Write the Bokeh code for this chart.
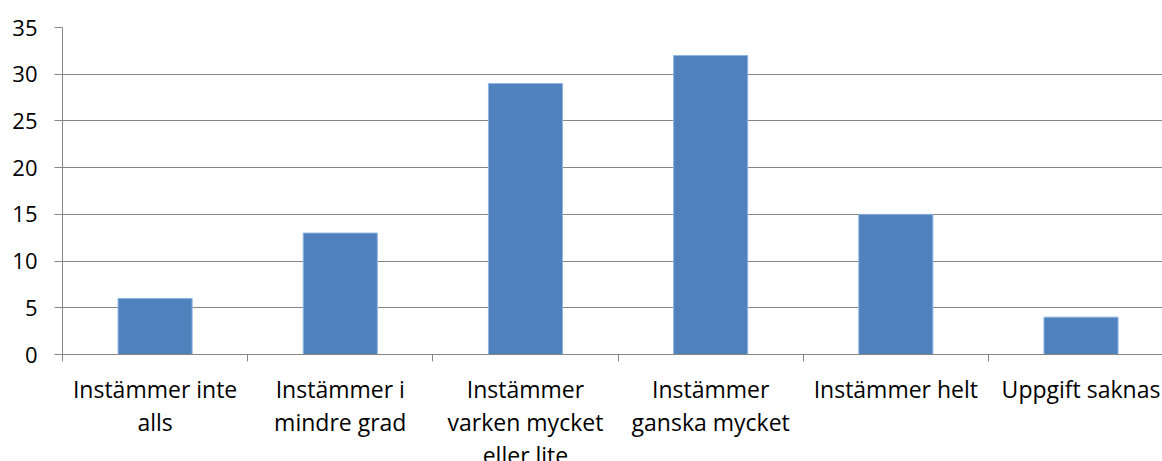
from bokeh.plotting import figure
from bokeh.models import Range1d, FixedTicker, ColumnDataSource
from bokeh.layouts import column
from bokeh.embed import file_html
from bokeh.resources import INLINE
from bokeh.core.properties import value

categories = ["Instämmer inte\nalls", "Instämmer i\nmindre grad", "Instämmer\nvarken mycket\neller lite",
              "Instämmer\nganska mycket", "Instämmer helt", "Uppgift saknas"]
values = [6, 13, 29, 32, 15, 4]
y_ticks = [0, 5, 10, 15, 20, 25, 30, 35]

FONT = "Open Sans"
GRAY = "#868686"

xs = [i + 0.5 for i in range(len(categories))]
src = ColumnDataSource(dict(x=xs, top=values, label=categories))

xr = Range1d(0, 5.94)
p = figure(width=1162, height=370, output_backend="svg", toolbar_location=None,
           x_range=xr, y_range=Range1d(0, 35),
           min_border_left=62, min_border_right=0, min_border_top=27, min_border_bottom=16)
p.outline_line_color = None

p.vbar(x="x", top="top", width=0.4, bottom=0, source=src,
       fill_color="#4F81BD", line_color="#8EB4E3", line_width=1)

# y axis
p.yaxis.ticker = FixedTicker(ticks=y_ticks, minor_ticks=[])
p.yaxis.axis_line_color = GRAY
p.yaxis.major_tick_line_color = GRAY
p.yaxis.major_tick_out = 8
p.yaxis.major_tick_in = 0
p.yaxis.minor_tick_line_color = None
p.yaxis.major_label_standoff = 17
p.yaxis.major_label_text_font = FONT
p.yaxis.major_label_text_font_size = "22px"
p.yaxis.major_label_text_color = "black"

p.ygrid.ticker = FixedTicker(ticks=y_ticks)
p.ygrid.grid_line_color = GRAY
p.ygrid.grid_line_width = 1
p.xgrid.grid_line_color = None

# x axis: tick marks at category boundaries, labels drawn below
bounds = list(range(len(categories) + 1))
p.xaxis.ticker = FixedTicker(ticks=bounds, minor_ticks=[])
p.xaxis.major_label_overrides = {b: "" for b in bounds}
p.xaxis.axis_line_color = GRAY
p.xaxis.major_tick_line_color = GRAY
p.xaxis.major_tick_out = 7
p.xaxis.major_tick_in = 0
p.xaxis.minor_tick_line_color = None
p.xaxis.major_label_text_font_size = "1px"
p.xaxis.major_label_standoff = 0

# category labels panel
q = figure(width=1162, height=91, output_backend="svg", toolbar_location=None,
           x_range=xr, y_range=Range1d(0, 91),
           min_border_left=62, min_border_right=0, min_border_top=0, min_border_bottom=0)
q.outline_line_color = None
q.axis.visible = False
q.grid.grid_line_color = None
lab_src = ColumnDataSource(dict(x=xs, y=[89] * len(xs), label=categories))
q.text(x="x", y="y", text="label", source=lab_src, text_align="center", text_baseline="top",
       text_font=value(FONT), text_font_size="23px", text_color="black", text_line_height=1.04)

layout = column(p, q, spacing=0)
open("out.html", "w").write(file_html(layout, INLINE))
